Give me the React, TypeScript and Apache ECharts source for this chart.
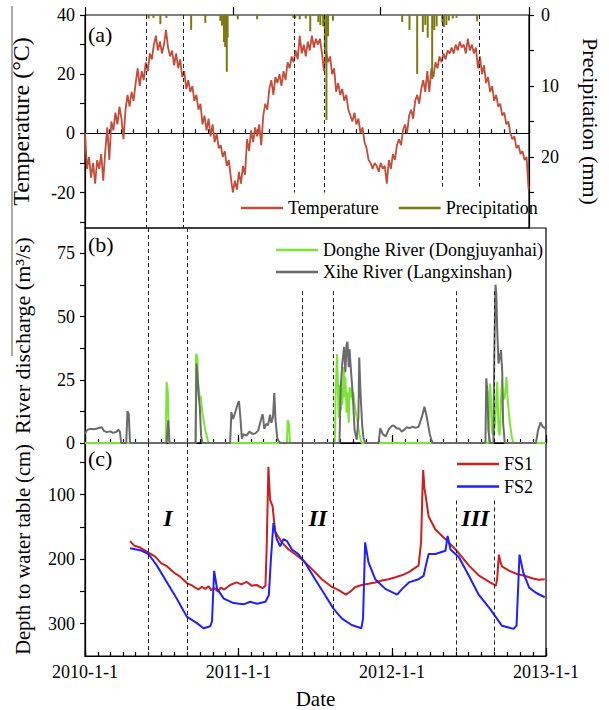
import React, { useEffect, useRef } from "react";
import * as echarts from "echarts";

// ---------------- DATA ----------------
const START_DATE = "2010-01-01";
const END_DATE = "2013-01-01";
const TEMP_STEP_DAYS = 5;

// Air temperature (°C), one value every 5 days from 2010-01-01
const temperature = [
  0, -12, -8, -15, -10, -17, -9, -12, -7, -16,
  -6, 2, -9, 4, 1, 7, 3, 9, 5, -2,
  8, 13, 9, 14, 11, 17, 22, 16, 21, 18,
  24, 21, 27, 25, 30, 33, 28, 31, 27, 30,
  35, 29, 26, 28, 23, 27, 22, 25, 19, 21,
  15, 18, 14, 16, 11, 13, 8, 10, 3, 6,
  1, 5, -1, 3, -3, 0, -5, -4, -8, -6,
  -11, -9, -15, -20,
  -16, -19, -13, -17, -11, -14, -2, -6, 1, -3,
  2, -1, 3, -4, 6, 10, 8, 15, 18, 13,
  19, 17, 20, 16, 21, 18, 24, 22, 26, 24,
  28, 25, 33, 27, 30, 26, 31, 28, 33, 29,
  32, 30, 32, 27, 21, 28, 24, 26, 20, 22,
  14, 17, 13, 15, 11, 13, 8, 6, 4, 7,
  3, 5, 0, 2, -3, -5, -9, -10, -12, -10,
  -11, -13,
  -10, -12, -11, -17, -9, -12, -7, -9, -4, -2,
  -4, 1, 3, 0, 6, 8, 5, 11, 13, 10,
  15, 18, 14, 21, 14, 22, 19, 24, 22, 26,
  24, 27, 25, 28, 27, 29, 27, 30, 28, 31,
  29, 30, 27, 32, 28, 30, 27, 29, 22, 26,
  20, 23, 17, 19, 14, 16, 11, 13, 9, 10,
  6, 7, 3, 4, 0, -2, -1, -5, -4, -7,
  -6, -9, -8, -19,
];

// Daily precipitation (mm), rainy days only
const precipDates = [
  "2010-06-07", "2010-06-19", "2010-07-06", "2010-07-21", "2010-09-20", "2010-10-25",
  "2010-12-01", "2010-12-05", "2010-12-10", "2010-12-13", "2010-12-17", "2010-12-19",
  "2011-01-13", "2011-03-02", "2011-05-30", "2011-06-04", "2011-06-15", "2011-06-30",
  "2011-07-11", "2011-07-31", "2011-08-05", "2011-08-12", "2011-08-16", "2011-08-20",
  "2011-08-24", "2011-09-05",
  "2012-02-23", "2012-03-12", "2012-03-31", "2012-04-14", "2012-04-20", "2012-04-26",
  "2012-05-07", "2012-05-12", "2012-05-18", "2012-06-01", "2012-06-05", "2012-06-11",
  "2012-06-17", "2012-06-27", "2012-07-06", "2012-08-26",
];
const precipValues = [
  0.5, 0.4, 1.3, 0.4, 2.1, 1.1,
  0.8, 1.5, 3.8, 4.5, 8.0, 3.2,
  0.6, 0.6, 0.4, 0.5, 0.6, 0.5,
  2.3, 1.0, 1.4, 1.6, 5.0, 14.8,
  3.0, 0.8,
  1.0, 2.1, 8.3, 2.4, 1.4, 3.2,
  9.0, 2.1, 1.6, 1.0, 1.7, 1.4,
  0.8, 0.5, 0.4, 0.9,
];

// River discharge (m3/s)
const dongheDates = [
  "2010-01-01", "2010-07-12", "2010-07-14", "2010-07-17", "2010-07-19", "2010-07-20",
  "2010-09-21", "2010-09-22", "2010-09-25", "2010-09-27", "2010-10-01", "2010-10-03",
  "2010-10-07", "2010-10-14", "2010-10-20", "2010-10-22",
  "2011-04-26", "2011-04-28", "2011-05-01", "2011-05-03", "2011-05-04",
  "2011-08-18", "2011-08-20", "2011-08-23", "2011-08-25", "2011-08-27", "2011-08-30",
  "2011-09-01", "2011-09-03", "2011-09-05", "2011-09-08", "2011-09-10", "2011-09-12",
  "2011-09-15", "2011-09-17", "2011-09-20", "2011-09-22", "2011-09-24", "2011-09-27",
  "2011-09-29", "2011-10-01", "2011-10-05", "2011-10-09", "2011-10-13", "2011-10-17",
  "2011-10-21",
  "2012-08-18", "2012-08-21", "2012-08-24", "2012-08-26", "2012-08-29", "2012-09-02",
  "2012-09-07", "2012-09-10", "2012-09-13", "2012-09-18", "2012-09-21", "2012-09-25",
  "2012-09-29", "2012-10-02", "2012-10-07", "2012-10-12", "2012-10-16", "2013-01-01",
];
const dongheValues = [
  0, 0, 24.2, 20, 3, 0,
  0, 35.2, 34, 24, 17.4, 18.5,
  12, 5, 1, 0,
  0, 9.1, 7.5, 1, 0,
  0, 20, 35.2, 25, 10, 23,
  13, 22, 15, 30, 18, 26,
  12, 20, 8, 22, 18, 22,
  17, 20, 14, 10, 6, 2,
  0,
  0, 23.5, 15, 4, 3, 8,
  24.2, 5, 3, 24.8, 17, 18.2,
  26.1, 17, 8, 2, 0, 0,
];

const xiheDates = [
  "2010-01-01", "2010-01-06", "2010-01-13", "2010-01-22", "2010-02-01", "2010-02-10",
  "2010-02-15", "2010-02-22", "2010-03-02", "2010-03-09", "2010-03-16", "2010-03-22",
  "2010-03-25", "2010-03-28", "2010-04-09", "2010-04-12", "2010-04-15", "2010-04-18",
  "2010-07-14", "2010-07-18", "2010-07-21",
  "2010-09-21", "2010-09-23", "2010-09-26", "2010-09-28", "2010-10-01", "2010-10-04",
  "2010-10-07",
  "2010-12-12", "2010-12-15", "2010-12-19", "2010-12-24", "2010-12-29", "2011-01-02",
  "2011-01-05", "2011-01-09", "2011-01-12", "2011-01-20", "2011-01-27", "2011-02-03",
  "2011-02-10", "2011-02-17", "2011-02-22", "2011-02-27", "2011-03-01", "2011-03-03",
  "2011-03-08", "2011-03-12", "2011-03-17", "2011-03-20", "2011-03-24", "2011-03-27",
  "2011-03-30", "2011-04-03", "2011-04-06", "2011-04-10",
  "2011-08-29", "2011-09-01", "2011-09-05", "2011-09-09", "2011-09-12", "2011-09-15",
  "2011-09-17", "2011-09-20", "2011-09-22", "2011-09-26", "2011-09-29", "2011-10-04",
  "2011-10-09", "2011-10-13", "2011-10-15", "2011-10-18", "2011-10-22", "2011-10-25",
  "2011-10-29",
  "2011-11-30", "2011-12-04", "2011-12-10", "2011-12-17", "2011-12-24", "2011-12-31",
  "2012-01-05", "2012-01-12", "2012-01-19", "2012-01-24", "2012-01-31", "2012-02-05",
  "2012-02-12", "2012-02-19", "2012-02-26", "2012-03-04", "2012-03-12", "2012-03-18",
  "2012-03-23", "2012-03-28", "2012-03-31", "2012-04-04", "2012-04-07",
  "2012-08-10", "2012-08-12", "2012-08-15", "2012-08-17", "2012-08-21", "2012-08-29",
  "2012-08-31", "2012-09-03", "2012-09-05", "2012-09-07", "2012-09-10", "2012-09-12",
  "2012-09-16", "2012-09-19", "2012-09-21", "2012-09-25",
  "2012-12-08", "2012-12-13", "2012-12-19", "2012-12-24", "2013-01-01",
];
const xiheValues = [
  3.6, 5.2, 5.6, 5.4, 5.8, 6.2,
  4.8, 4.3, 4.6, 4.0, 4.4, 5.2,
  4.4, 0, 0, 12.6, 11.5, 0,
  0, 9.0, 0,
  0, 31.4, 25, 19.4, 14, 3,
  0,
  0, 12.2, 9.5, 12, 15, 16.6,
  11, 1.7, 3.5, 2.9, 4.5, 3.6,
  3.8, 5, 8.3, 11.4, 9.5, 5.6,
  7.6, 7.0, 11.2, 8, 10.3, 19.7,
  9, 2, 0.8, 0,
  0, 22, 32, 38, 28, 39,
  40, 30, 37, 27, 20.9, 5,
  1.3, 10, 33.8, 20, 7, 2,
  0,
  0, 5.8, 3.5, 2.6, 5.4, 6.7,
  6.9, 5.8, 5.6, 4.5, 5.4, 6.2,
  5.9, 6.5, 6.0, 6.4, 10.3, 14.3,
  10.8, 6, 3.3, 1, 0,
  0, 25.6, 20, 5, 0, 0,
  35, 62.6, 58, 45, 31.4, 33,
  36.7, 28, 8, 0,
  0, 5, 8.1, 6.5, 5.6,
];

// Depth to water table (cm)
const fs1Dates = [
  "2010-04-18", "2010-04-28", "2010-05-12", "2010-05-30", "2010-06-17", "2010-07-01",
  "2010-07-15", "2010-08-01", "2010-08-15", "2010-08-31", "2010-09-13", "2010-09-27",
  "2010-10-06", "2010-10-14", "2010-10-22", "2010-10-28", "2010-11-05", "2010-11-13",
  "2010-11-20", "2010-11-28", "2010-12-12", "2010-12-27", "2011-01-08", "2011-01-20",
  "2011-02-01", "2011-02-13", "2011-02-27", "2011-03-06", "2011-03-09", "2011-03-13",
  "2011-03-17", "2011-03-23", "2011-03-29", "2011-04-14", "2011-04-30", "2011-05-15",
  "2011-05-31", "2011-06-24", "2011-07-18", "2011-08-11", "2011-08-27", "2011-09-13",
  "2011-09-24", "2011-10-06", "2011-10-21", "2011-11-06", "2011-11-22", "2011-12-08",
  "2011-12-24", "2012-01-09", "2012-01-24", "2012-02-10", "2012-02-21", "2012-03-04",
  "2012-03-10", "2012-03-13", "2012-03-15", "2012-03-18", "2012-03-20", "2012-03-28",
  "2012-04-13", "2012-05-07", "2012-05-31", "2012-07-02", "2012-07-25", "2012-08-21",
  "2012-09-04", "2012-09-07", "2012-09-11", "2012-09-15", "2012-09-18", "2012-10-06",
  "2012-10-24", "2012-11-13", "2012-12-01", "2012-12-15", "2012-12-29",
];
const fs1Values = [
  172, 179, 182, 189, 196, 206,
  211, 221, 227, 237, 241, 247,
  243, 246, 242, 248, 245, 250,
  244, 247, 240, 236, 239, 235,
  241, 240, 245, 241, 180, 57,
  108, 118, 157, 174, 185, 192,
  200, 215, 231, 243, 248, 255,
  250, 243, 240, 238, 236, 233,
  231, 228, 225, 220, 215, 210,
  174, 100, 62, 90, 98, 134,
  154, 169, 185, 210, 225, 236,
  241, 230, 193, 205, 211, 218,
  223, 226, 230, 232, 231,
];

const fs2Dates = [
  "2010-04-18", "2010-05-12", "2010-06-01", "2010-06-21", "2010-07-15", "2010-08-07",
  "2010-08-31", "2010-09-24", "2010-10-10", "2010-10-26", "2010-10-30", "2010-11-04",
  "2010-11-11", "2010-11-27", "2010-12-20", "2011-01-13", "2011-01-29", "2011-02-14",
  "2011-03-06", "2011-03-14", "2011-03-19", "2011-03-25", "2011-04-02", "2011-04-10",
  "2011-04-18", "2011-04-26", "2011-05-08", "2011-05-23", "2011-06-08", "2011-07-02",
  "2011-07-26", "2011-08-15", "2011-09-04", "2011-09-27", "2011-10-20", "2011-10-24",
  "2011-10-29", "2011-11-06", "2011-11-22", "2011-12-16", "2012-01-13", "2012-01-25",
  "2012-02-10", "2012-03-04", "2012-03-16", "2012-03-23", "2012-03-28", "2012-04-13",
  "2012-05-07", "2012-05-12", "2012-05-19", "2012-06-08", "2012-07-02", "2012-07-25",
  "2012-08-21", "2012-09-18", "2012-10-16", "2012-10-23", "2012-10-30", "2012-11-08",
  "2012-11-22", "2012-12-08", "2012-12-29",
];
const fs2Values = [
  183, 186, 192, 210, 236, 261,
  289, 299, 307, 304, 296, 218,
  246, 261, 268, 270, 266, 269,
  266, 256, 200, 144, 169, 180,
  169, 172, 185, 192, 205, 231,
  256, 277, 292, 302, 307, 292,
  174, 205, 231, 246, 255, 246,
  236, 231, 226, 205, 192, 192,
  187, 164, 185, 197, 226, 255,
  277, 303, 308, 303, 193, 221,
  244, 252, 259,
];

// Periods I, II, III (dashed lines)
const periodNames = ["I", "II", "III"];
const periodStarts = ["2010-06-01", "2011-06-01", "2012-06-01"];
const periodEnds = ["2010-09-01", "2011-08-15", "2012-09-01"];

// Axis ticks and labels
const yearTicks = ["2010-01-01", "2011-01-01", "2012-01-01", "2013-01-01"];
const tempTicks = [-30, -20, -10, 0, 10, 20, 30, 40];
const tempLabels = [-20, 0, 20, 40];
const precipTicks = [0, 5, 10, 15, 20, 25];
const precipLabels = [0, 10, 20];
const dischargeTicks = [0, 12.5, 25, 37.5, 50, 62.5, 75];
const dischargeLabels = [0, 25, 50, 75];
const depthTicks = [50, 100, 150, 200, 250, 300];
const depthLabels = [100, 200, 300];

// ---------------- STYLE ----------------
const FONT = "Liberation Serif, Times New Roman, serif";
const C_TEMP = "#c24d38";
const C_PRECIP = "#7a7a10";
const C_DONGHE = "#7ae632";
const C_XIHE = "#6b6b6b";
const C_FS1 = "#cc1f1f";
const C_FS2 = "#1f1fff";
const AXIS_COLOR = "#000";

const ts = (s: string) => {
  const [y, m, d] = s.split("-").map(Number);
  return Date.UTC(y, m - 1, d);
};
const DAY = 86400000;

const pairs = (dates: string[], values: number[]) => dates.map((d, i) => [ts(d), values[i]]);

function buildOption() {
  const xMin = ts(START_DATE);
  const xMax = ts(END_DATE);
  const monthTicks: number[] = [];
  for (let y = 2010; y <= 2012; y++) for (let m = 0; m < 12; m++) monthTicks.push(Date.UTC(y, m, 1));
  monthTicks.push(Date.UTC(2013, 0, 1));
  const yearVals = yearTicks.map(ts);

  const tempData = temperature.map((v, i) => [xMin + i * TEMP_STEP_DAYS * DAY, v]);

  const axisLine = { show: true, lineStyle: { color: AXIS_COLOR, width: 1.2 } };
  const tickLine = { color: AXIS_COLOR, width: 1.2 };
  const labelStyle = { color: "#000", fontFamily: FONT, fontSize: 18 };
  const nameStyle = (size: number) => ({ color: "#000", fontFamily: FONT, fontSize: size });

  const xMonth = (gridIndex: number) => ({
    type: "value",
    gridIndex,
    position: "bottom",
    min: xMin,
    max: xMax,
    axisLine,
    axisTick: { show: true, inside: true, length: 4, customValues: monthTicks, lineStyle: tickLine },
    axisLabel: { show: false },
    splitLine: { show: false },
  });
  const xYear = (gridIndex: number, showLabel: boolean) => ({
    type: "value",
    gridIndex,
    position: "bottom",
    offset: 0,
    min: xMin,
    max: xMax,
    axisLine: { show: false },
    axisTick: { show: true, inside: true, length: 8, customValues: yearVals, lineStyle: tickLine },
    axisLabel: {
      show: showLabel,
      customValues: yearVals,
      margin: 7,
      ...labelStyle,
      formatter: (v: number) => {
        const d = new Date(v);
        return `${d.getUTCFullYear()}-${d.getUTCMonth() + 1}-${d.getUTCDate()}`;
      },
    },
    name: showLabel ? "Date" : "",
    nameLocation: "middle",
    nameGap: 32,
    nameTextStyle: nameStyle(21),
    splitLine: { show: false },
  });

  const dash = { type: [4, 3], color: "#222", width: 1 };
  const vLines = (tops: number[], bottoms: number[]) => {
    const out: any[] = [];
    periodStarts.forEach((s, i) => {
      [s, periodEnds[i]].forEach((d) => {
        out.push([{ coord: [ts(d), tops[i]] }, { coord: [ts(d), bottoms[i]] }]);
      });
    });
    return out;
  };
  const markLine = (tops: number[], bottoms: number[]) => ({
    silent: true,
    symbol: ["none", "none"],
    label: { show: false },
    lineStyle: dash,
    emphasis: { disabled: true },
    data: vLines(tops, bottoms),
  });

  const legendBase = {
    icon: "rect",
    itemWidth: 42,
    itemHeight: 2.5,
    selectedMode: false,
    textStyle: { color: "#000", fontFamily: FONT, fontSize: 18, padding: [0, 0, 0, 0] },
  };

  return {
    animation: false,
    backgroundColor: "#fff",
    grid: [
      { left: 85, top: 15, width: 461, height: 213, show: true, borderColor: AXIS_COLOR, borderWidth: 1.2 },
      { left: 85, top: 228, width: 461, height: 215, show: true, borderColor: AXIS_COLOR, borderWidth: 1.2 },
      { left: 85, top: 443, width: 461, height: 214, show: true, borderColor: AXIS_COLOR, borderWidth: 1.2 },
    ],
    xAxis: [xMonth(0), xYear(0, false), xMonth(1), xYear(1, false), xMonth(2), xYear(2, true)],
    yAxis: [
      {
        type: "value",
        gridIndex: 0,
        min: -32,
        max: 40,
        axisLine,
        axisTick: { show: true, length: 5, customValues: tempTicks, lineStyle: tickLine },
        axisLabel: { customValues: tempLabels, margin: 10, ...labelStyle },
        splitLine: { show: false },
        name: "Temperature (°C)",
        nameLocation: "middle",
        nameRotate: 90,
        nameGap: 52,
        nameTextStyle: nameStyle(24),
      },
      {
        type: "value",
        gridIndex: 0,
        position: "right",
        inverse: true,
        min: 0,
        max: 30,
        axisLine,
        axisTick: { show: true, length: 5, customValues: precipTicks, lineStyle: tickLine },
        axisLabel: { customValues: precipLabels, margin: 12, ...labelStyle },
        splitLine: { show: false },
        name: "Precipitation (mm)",
        nameLocation: "middle",
        nameRotate: -90,
        nameGap: 50,
        nameTextStyle: nameStyle(22),
      },
      {
        type: "value",
        gridIndex: 1,
        min: 0,
        max: 85,
        axisLine,
        axisTick: { show: true, length: 5, customValues: dischargeTicks, lineStyle: tickLine },
        axisLabel: { customValues: dischargeLabels, margin: 10, ...labelStyle },
        splitLine: { show: false },
        name: "River discharge (m³/s)",
        nameLocation: "middle",
        nameRotate: 90,
        nameGap: 52,
        nameTextStyle: nameStyle(22),
      },
      {
        type: "value",
        gridIndex: 2,
        inverse: true,
        min: 20,
        max: 350,
        axisLine,
        axisTick: { show: true, length: 5, customValues: depthTicks, lineStyle: tickLine },
        axisLabel: { customValues: depthLabels, margin: 10, ...labelStyle },
        splitLine: { show: false },
        name: "Depth to water table (cm)",
        nameLocation: "middle",
        nameRotate: 90,
        nameGap: 52,
        nameTextStyle: nameStyle(20.5),
      },
    ],
    legend: [
      { ...legendBase, data: ["Temperature", "Precipitation"], orient: "horizontal", left: 236, top: 194, itemGap: 20 },
      {
        ...legendBase,
        data: ["Donghe River (Dongjuyanhai)", "Xihe River (Langxinshan)"],
        orient: "vertical",
        left: 271,
        top: 236,
        itemGap: 4,
      },
      { ...legendBase, data: ["FS1", "FS2"], orient: "vertical", left: 452, top: 450, itemGap: 4.5 },
    ],
    series: [
      {
        name: "Temperature",
        type: "line",
        xAxisIndex: 0,
        yAxisIndex: 0,
        data: tempData,
        symbol: "none",
        lineStyle: { color: C_TEMP, width: 1.8 },
        itemStyle: { color: C_TEMP },
        z: 2,
        markLine: markLine([40, 40, 40], [-32, -20, -18]),
      },
      {
        name: "Precipitation",
        type: "bar",
        xAxisIndex: 0,
        yAxisIndex: 1,
        data: pairs(precipDates, precipValues),
        barWidth: 2,
        itemStyle: { color: C_PRECIP },
        z: 3,
      },
      {
        name: "Donghe River (Dongjuyanhai)",
        type: "line",
        xAxisIndex: 2,
        yAxisIndex: 2,
        data: pairs(dongheDates, dongheValues),
        symbol: "none",
        lineStyle: { color: C_DONGHE, width: 2 },
        itemStyle: { color: C_DONGHE },
        z: 2,
      },
      {
        name: "Xihe River (Langxinshan)",
        type: "line",
        xAxisIndex: 2,
        yAxisIndex: 2,
        data: pairs(xiheDates, xiheValues),
        symbol: "none",
        lineStyle: { color: C_XIHE, width: 2 },
        itemStyle: { color: C_XIHE },
        z: 3,
        markLine: markLine([85, 60, 60], [0, 0, 0]),
      },
      {
        name: "FS1",
        type: "line",
        xAxisIndex: 4,
        yAxisIndex: 3,
        data: pairs(fs1Dates, fs1Values),
        symbol: "none",
        lineStyle: { color: C_FS1, width: 2 },
        itemStyle: { color: C_FS1 },
        z: 3,
        markLine: markLine([20, 20, 109], [350, 350, 350]),
      },
      {
        name: "FS2",
        type: "line",
        xAxisIndex: 4,
        yAxisIndex: 3,
        data: pairs(fs2Dates, fs2Values),
        symbol: "none",
        lineStyle: { color: C_FS2, width: 2 },
        itemStyle: { color: C_FS2 },
        z: 3,
        markArea: {
          silent: true,
          itemStyle: { color: "rgba(0,0,0,0)" },
          label: {
            show: true,
            position: "inside",
            color: "#000",
            fontFamily: FONT,
            fontSize: 24,
            fontStyle: "italic",
            fontWeight: "bold",
          },
          data: periodNames.map((n, i) => [
            { name: n, coord: [ts(periodStarts[i]), 124] },
            { coord: [ts(periodEnds[i]), 148] },
          ]),
        },
      },
    ],
    graphic: [
      { type: "text", left: 88, top: 23, style: { text: "(a)", font: `22px ${FONT}`, fill: "#000" } },
      { type: "text", left: 88, top: 233, style: { text: "(b)", font: `22px ${FONT}`, fill: "#000" } },
      { type: "text", left: 88, top: 447, style: { text: "(c)", font: `22px ${FONT}`, fill: "#000" } },
      { type: "line", shape: { x1: 12, y1: 6, x2: 12, y2: 356 }, style: { stroke: "#555", lineWidth: 1 } },
    ],
  };
}

export default function App() {
  const ref = useRef<HTMLDivElement>(null);
  useEffect(() => {
    if (!ref.current) return;
    const chart = echarts.init(ref.current, undefined, { renderer: "svg" });
    chart.setOption(buildOption() as any);
    return () => chart.dispose();
  }, []);
  return (
    <div
      ref={ref}
      style={{ position: "absolute", left: 0, top: 0, width: 609, height: 710, background: "#fff" }}
    />
  );
}
